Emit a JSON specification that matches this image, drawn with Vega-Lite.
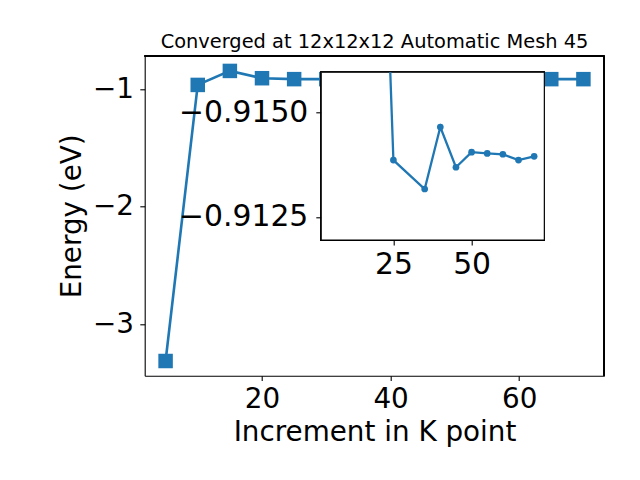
{
  "$schema": "https://vega.github.io/schema/vega-lite/v6.json",
  "width": 459.6,
  "height": 303.4,
  "autosize": {"type": "none"},
  "padding": {"left": 144.7, "top": 72.3, "right": 35.7, "bottom": 104.3},
  "background": "white",
  "title": {"text": "Converged at 12x12x12 Automatic Mesh 45", "font": "DejaVu Sans", "fontSize": 19.4, "fontWeight": "normal", "color": "black", "anchor": "middle", "frame": "group", "offset": 3},
  "config": {
    "font": "DejaVu Sans",
    "view": {"stroke": null},
    "axis": {"grid": false, "domainColor": "black", "tickColor": "black", "labelColor": "black", "titleColor": "black", "labelFont": "DejaVu Sans", "titleFont": "DejaVu Sans", "titleFontWeight": "normal", "tickSize": 4.9, "labelPadding": 4.9, "domainWidth": 1.1, "tickWidth": 1.1}
  },
  "datasets": {
    "main": [
      {"k": 5, "e": -3.312},
      {"k": 10, "e": -0.963},
      {"k": 15, "e": -0.844},
      {"k": 20, "e": -0.906},
      {"k": 25, "e": -0.9139},
      {"k": 30, "e": -0.9140},
      {"k": 35, "e": -0.9132},
      {"k": 40, "e": -0.9146},
      {"k": 45, "e": -0.9137},
      {"k": 50, "e": -0.9140},
      {"k": 55, "e": -0.9140},
      {"k": 60, "e": -0.9140},
      {"k": 65, "e": -0.9139},
      {"k": 70, "e": -0.9140}
    ],
    "inset": [
      {"k": 20, "e": -0.9243},
      {"k": 25, "e": -0.91386},
      {"k": 35, "e": -0.91317},
      {"k": 40, "e": -0.91465},
      {"k": 45, "e": -0.91369},
      {"k": 50, "e": -0.91405},
      {"k": 55, "e": -0.91402},
      {"k": 60, "e": -0.91400},
      {"k": 65, "e": -0.91386},
      {"k": 70, "e": -0.91395}
    ]
  },
  "layer": [
    {
      "data": {"name": "main"},
      "encoding": {
        "x": {"field": "k", "type": "quantitative",
          "scale": {"domain": [1.75, 73.25], "nice": false, "zero": false},
          "axis": {"values": [20, 40, 60], "title": "Increment in K point", "labelFontSize": 27.8, "titleFontSize": 27.8, "titlePadding": 5, "orient": "bottom"}},
        "y": {"field": "e", "type": "quantitative",
          "scale": {"domain": [-3.437, -0.717], "range": [303.4, -16.3], "nice": false, "zero": false},
          "axis": {"values": [-3, -2, -1], "format": "d", "title": "Energy (eV)", "labelFontSize": 27.8, "titleFontSize": 27.8, "titlePadding": 6, "labelPadding": 6.3, "orient": "left"}}
      },
      "layer": [
        {"mark": {"type": "line", "color": "#1f77b4", "strokeWidth": 2.6}},
        {"mark": {"type": "point", "shape": "square", "filled": true, "color": "#1f77b4", "size": 210, "opacity": 1}},
        {"mark": {"type": "rule", "color": "black", "strokeWidth": 1.1},
          "encoding": {"x": {"datum": 1.75, "type": "quantitative"}, "x2": {"datum": 73.25}, "y": {"datum": -0.717, "type": "quantitative"}}},
        {"mark": {"type": "rule", "color": "black", "strokeWidth": 1.1},
          "encoding": {"x": {"datum": 73.25, "type": "quantitative"}, "y": {"datum": -3.437, "type": "quantitative"}, "y2": {"datum": -0.717}}}
      ]
    },
    {
      "data": {"name": "inset"},
      "encoding": {
        "x": {"field": "k", "type": "quantitative",
          "scale": {"domain": [1.75, 73.25], "range": [176, 399.6], "nice": false, "zero": false},
          "axis": {"values": [25, 50], "title": null, "orient": "bottom", "offset": -135.7, "labelFontSize": 29.8, "zindex": 1}},
        "y": {"field": "e", "type": "quantitative",
          "scale": {"domain": [-0.91596, -0.91195], "range": [0, 167.7], "nice": false, "zero": false},
          "axis": {"values": [-0.915, -0.9125], "format": ".4f", "title": null, "orient": "left", "offset": -176, "labelFontSize": 29.8, "labelPadding": 8, "zindex": 1}}
      },
      "layer": [
        {"mark": {"type": "rect", "fill": "white", "stroke": "black", "strokeWidth": 1.1},
          "encoding": {"x": {"datum": 1.75, "type": "quantitative"}, "x2": {"datum": 73.25}, "y": {"datum": -0.91596, "type": "quantitative"}, "y2": {"datum": -0.91195}}},
        {"mark": {"type": "line", "color": "#1f77b4", "strokeWidth": 2.3, "clip": true}},
        {"mark": {"type": "point", "shape": "circle", "filled": true, "color": "#1f77b4", "size": 45, "opacity": 1, "clip": true}}
      ]
    }
  ],
  "resolve": {"scale": {"x": "independent", "y": "independent"}, "axis": {"x": "independent", "y": "independent"}}
}
